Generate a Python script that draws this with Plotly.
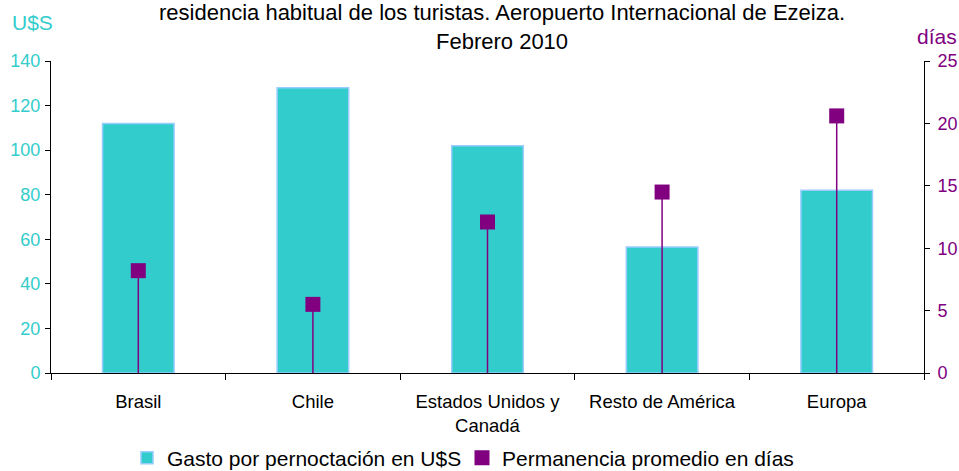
import plotly.graph_objects as go

categories = ["Brasil", "Chile", "Estados Unidos y<br>Canadá", "Resto de América", "Europa"]
gasto = [112, 128, 102, 56.5, 82]
permanencia = [8.2, 5.5, 12.1, 14.5, 20.6]

title_lines = ["residencia habitual de los turistas. Aeropuerto Internacional de Ezeiza.", "Febrero 2010"]

CYAN = "#33CCCC"
PURPLE = "#800080"
FONT = "Liberation Sans, Arial, sans-serif"

fig = go.Figure()
fig.add_trace(go.Bar(
    x=categories, y=gasto, name="Gasto por pernoctación en U$S",
    marker=dict(color=CYAN, line=dict(color="#99CCFF", width=1.5)),
    width=0.41, yaxis="y",
))
fig.add_trace(go.Scatter(
    x=categories, y=permanencia, name="Permanencia promedio en días",
    mode="markers", yaxis="y2",
    marker=dict(symbol="square", size=15, color=PURPLE),
    error_y=dict(type="data", symmetric=False, array=[0]*len(permanencia),
                 arrayminus=permanencia, color=PURPLE, thickness=1.5, width=0),
))

fig.update_layout(
    width=959, height=471,
    margin=dict(l=51, r=35, t=61, b=98, autoexpand=False),
    paper_bgcolor="white", plot_bgcolor="white",
    font=dict(family=FONT, color="black", size=17),
    showlegend=True,
    legend=dict(orientation="h", x=(127 - 51) / 873, xanchor="left",
                y=-(458 - 373) / 312, yanchor="middle",
                font=dict(size=21, color="black"),
                entrywidth=290, entrywidthmode="pixels", tracegroupgap=0),
    xaxis=dict(showline=True, linecolor="black", linewidth=1, ticks="outside",
               tickson="boundaries", ticklen=6, tickcolor="black",
               ticklabelstandoff=12, automargin=False,
               tickfont=dict(size=18.5, color="black"), showgrid=False),
    yaxis=dict(range=[0, 140], dtick=20, showline=True, linecolor="black", linewidth=1,
               ticks="outside", ticklen=5, tickcolor="black", showgrid=False,
               ticklabelstandoff=1,
               automargin=False, zeroline=False, tickfont=dict(size=18, color=CYAN)),
    yaxis2=dict(range=[0, 25], dtick=5, overlaying="y", side="right", showline=True,
                linecolor="black", linewidth=1, ticks="outside", ticklen=5,
                tickcolor="black", showgrid=False, zeroline=False, automargin=False,
                ticklabelstandoff=4,
                tickfont=dict(size=18, color=PURPLE)),
    bargap=0.59,
)

fig.add_annotation(text=title_lines[0] + "<br>" + title_lines[1], xref="paper", yref="paper",
                   x=(502 - 51) / 873, y=1, yshift=5, xanchor="center", yanchor="bottom",
                   showarrow=False, font=dict(size=22, color="black", family=FONT))
fig.add_annotation(text="U$S", xref="paper", yref="paper", x=(32 - 51) / 873, y=1,
                   yshift=61 - 22, xanchor="center", yanchor="middle", showarrow=False,
                   font=dict(size=21, color=CYAN, family=FONT))
fig.add_annotation(text="días", xref="paper", yref="paper", x=(937 - 51) / 873, y=1,
                   yshift=61 - 36, xanchor="center", yanchor="middle", showarrow=False,
                   font=dict(size=21, color=PURPLE, family=FONT))

fig.write_html("out.html", config={"displayModeBar": False},
               post_script="document.body.style.margin='0';document.body.style.overflow='hidden';")
